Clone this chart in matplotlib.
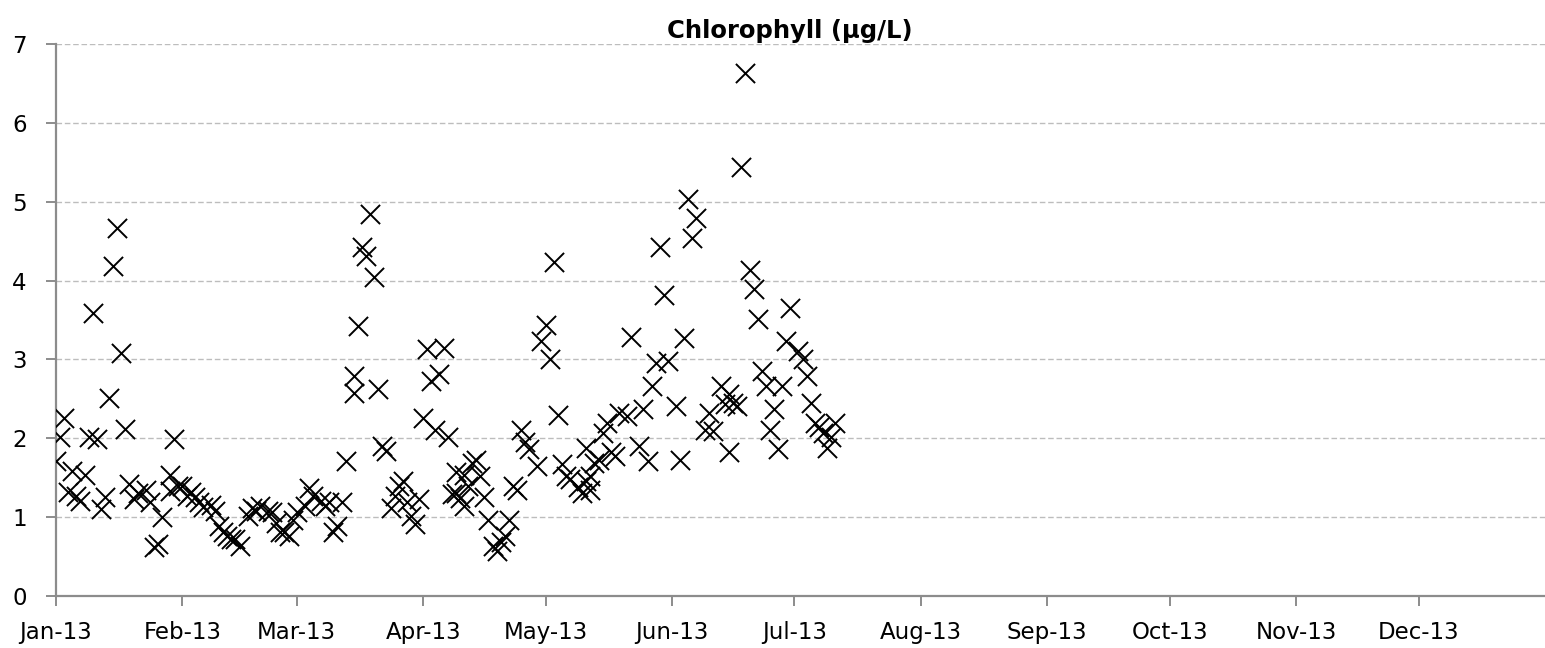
import matplotlib
matplotlib.use("Agg")
import matplotlib.pyplot as plt
import matplotlib.dates as mdates
import numpy as np
import pandas as pd

# Sampling day (days after 1 Jan 2013) and chlorophyll concentration (µg/L)
sample_day = [
    0, 1, 2, 3, 4, 5, 6, 7, 8, 9, 10, 11, 12, 13, 14, 15, 16, 17, 18, 19,
    20, 22, 23, 24, 25, 26, 28, 28, 29, 30, 31, 32, 33, 34, 35, 36, 38, 39, 40, 41,
    42, 43, 44, 45, 47, 48, 49, 50, 52, 53, 54, 55, 56, 57, 58, 59, 61, 62, 63, 65,
    66, 67, 68, 69, 70, 71, 73, 73, 74, 75, 76, 77, 78, 79, 80, 81, 82, 83, 84, 85,
    86, 87, 88, 89, 90, 91, 92, 93, 94, 95, 96, 97, 98, 98, 99, 100, 100, 101, 102, 103,
    104, 105, 106, 107, 108, 109, 110, 111, 112, 113, 114, 115, 116, 118, 119, 120, 121, 122, 123, 124,
    125, 126, 128, 129, 130, 130, 131, 131, 132, 133, 134, 135, 136, 137, 138, 140, 141, 143, 144, 145,
    146, 147, 148, 149, 150, 152, 153, 154, 155, 156, 157, 159, 160, 161, 163, 164, 165, 165, 166, 167,
    168, 169, 170, 171, 172, 173, 174, 175, 176, 177, 178, 179, 180, 182, 183, 184, 185, 186, 187, 188,
    189, 190, 191,
]
chlorophyll = [
    1.71, 2.01, 2.26, 1.32, 1.59, 1.27, 1.21, 1.54, 2.01, 3.59, 1.99, 1.10, 1.25, 2.51, 4.18, 4.67, 3.08, 2.12, 1.42, 1.23,
    1.31, 1.35, 1.19, 0.62, 0.66, 1.00, 1.54, 1.33, 1.99, 1.40, 1.40, 1.27, 1.32, 1.25, 1.19, 1.13, 1.16, 1.08, 0.89, 0.81,
    0.76, 0.72, 0.72, 0.64, 1.02, 1.12, 1.08, 1.14, 1.08, 1.06, 0.93, 0.81, 0.81, 0.76, 0.97, 1.06, 1.14, 1.37, 1.27, 1.21,
    1.14, 1.19, 0.81, 0.89, 1.19, 1.71, 2.58, 2.79, 3.42, 4.43, 4.31, 4.85, 4.05, 2.63, 1.90, 1.84, 1.12, 1.27, 1.40, 1.46,
    1.19, 1.02, 0.91, 1.23, 2.26, 3.13, 2.73, 2.11, 2.81, 3.15, 2.01, 1.29, 1.57, 1.31, 1.24, 1.14, 1.54, 1.40, 1.69, 1.73,
    1.52, 1.25, 0.97, 0.64, 0.57, 0.68, 0.76, 0.97, 1.40, 1.35, 2.11, 1.95, 1.86, 1.65, 3.23, 3.44, 3.00, 4.24, 2.30, 1.67,
    1.52, 1.48, 1.38, 1.31, 1.46, 1.88, 1.52, 1.35, 1.69, 1.73, 2.07, 2.20, 1.82, 1.78, 2.32, 2.28, 3.29, 1.90, 2.37, 1.71,
    2.66, 2.96, 4.43, 3.82, 2.98, 2.41, 1.73, 3.27, 5.03, 4.54, 4.79, 2.11, 2.32, 2.09, 2.66, 2.43, 1.82, 2.56, 2.45, 2.41,
    5.44, 6.63, 4.14, 3.89, 3.51, 2.85, 2.66, 2.11, 2.37, 1.86, 2.66, 3.23, 3.65, 3.11, 3.00, 2.79, 2.45, 2.20, 2.14, 2.07,
    1.88, 2.01, 2.20,
]
month_ticks = pd.date_range("2013-01-01", "2013-12-01", freq="MS")

start = pd.Timestamp("2013-01-01")
dates = start + pd.to_timedelta(sample_day, unit="D")

plt.rcParams["font.family"] = ["DejaVu Sans"]

fig = plt.figure(figsize=(15.45, 6.48), dpi=100)
ax = fig.add_axes([56 / 1545, 52 / 648, 1489 / 1545, 552 / 648])

ax.scatter(dates, chlorophyll, marker="x", s=190, c="black", linewidths=1.4, zorder=3)

ax.set_xlim(pd.Timestamp("2013-01-01"), pd.Timestamp("2014-01-01"))
ax.set_ylim(0, 7)
ax.set_yticks(np.arange(0, 8, 1))

ax.set_xticks(month_ticks)
ax.xaxis.set_major_formatter(mdates.DateFormatter("%b-%y"))

ax.grid(axis="y", color="#bdbdbd", linestyle=(0, (4, 2)), linewidth=1.0, zorder=0)
ax.grid(axis="x", visible=False)

for side in ("top", "right"):
    ax.spines[side].set_visible(False)
for side in ("left", "bottom"):
    ax.spines[side].set_color("#8c8c8c")
    ax.spines[side].set_linewidth(1.6)

ax.tick_params(axis="both", colors="#8c8c8c", length=7, width=1.4,
               labelcolor="black", labelsize=16.5)
ax.tick_params(axis="y", pad=14)
ax.tick_params(axis="x", pad=11)

fig.text(790 / 1545, 1 - 31 / 648, "Chlorophyll (µg/L)", ha="center", va="center",
         fontsize=17.5, fontweight="bold")

fig.savefig("out.png", dpi=100)
